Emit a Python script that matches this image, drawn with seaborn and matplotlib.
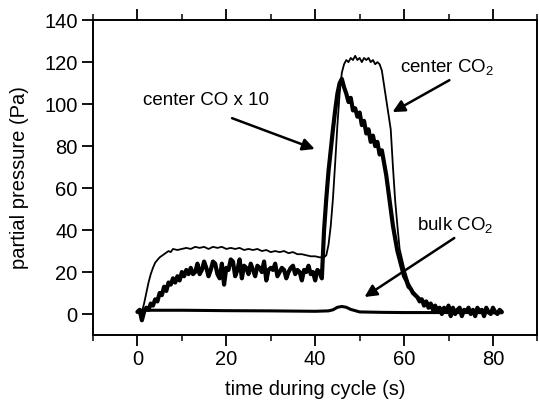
import numpy as np
import pandas as pd
import matplotlib
matplotlib.use("Agg")
import matplotlib.pyplot as plt
import seaborn as sns

# center CO2 (thin line)
t_co2 = [0.5, 1, 1.5, 2, 2.5, 3, 3.5, 4, 5, 6, 7, 7.5, 8, 9, 10, 11, 12, 13, 14, 15,
         16, 17, 18, 19, 20, 21, 22, 23, 24, 25, 26, 27, 28, 29, 30, 31, 32, 33, 34,
         35, 36, 37, 38, 39, 40, 41, 42, 42.5, 43, 43.5, 44, 44.5, 45, 45.5, 46, 46.5,
         47, 47.5, 48, 48.5, 49, 49.5, 50, 50.5, 51, 51.5, 52, 52.5, 53, 53.5, 54, 54.5,
         55, 55.5, 56, 56.5, 57, 57.5, 58, 58.5, 59, 60, 61, 62, 63, 64, 65, 66, 67, 68,
         70, 72, 75, 78, 82]
co2_center = [0, 1, 5, 10, 15, 19, 22, 24.5, 27, 28.5, 30, 29.5, 31, 30.5, 31, 31.5, 31, 32,
              31.5, 32, 31, 32, 31.5, 32, 31, 31.5, 31, 31.5, 30.5, 31, 30.5, 31, 30, 30.5,
              29.5, 30, 29.5, 30, 29, 29.5, 28.5, 28.5, 28, 27.5, 27.5, 27, 27, 28, 33, 42,
              55, 72, 90, 105, 115, 119, 121, 120, 122, 121, 123, 121, 122, 120, 122, 121,
              122, 120, 121, 119, 120, 119, 116, 109, 102, 95, 88, 70, 54, 42, 31, 22, 15,
              11, 8.5, 7, 5.5, 4.5, 3.5, 3, 2, 1.5, 1.5, 1, 1]

# center CO x 10 (thick noisy line), every 0.5 s
t_co = list(np.arange(0, 82.5, 0.5))
co_center_x10 = [1, 2, -3, 1, 3, 2, 5, 4, 7, 6, 10, 9, 13, 11, 15, 14, 17, 15, 18, 16,
                 20, 18, 21, 19, 22, 19, 20, 24, 19, 21, 25, 22, 18, 21, 25, 24, 19, 17,
                 24, 14, 22, 21, 26, 25, 18, 21, 26, 17, 23, 22, 19, 24, 21, 18, 23, 22,
                 20, 25, 16, 21, 22, 21, 24, 18, 20, 22, 21, 17, 20, 22, 23, 19, 21, 20,
                 16, 21, 20, 23, 19, 20, 16, 21, 20, 17, 40, 55, 68, 78, 88, 97, 105, 110,
                 112, 108, 105, 101, 103, 97, 98, 94, 96, 90, 92, 86, 88, 82, 85, 80, 82,
                 76, 78, 72, 66, 58, 50, 42, 36, 30, 26, 22, 18, 16, 13, 12, 10, 9, 8, 6,
                 7, 4, 6, 3, 5, 2, 4, 1, 3, 0, 3, 1, 4, -1, 3, 0, 2, 3, -1, 2, 1, 3, 0, 2,
                 -1, 3, 1, 2, -1, 3, 1, 0, 3, 1, 0, 2, 1]

# bulk CO2
t_bulk = [0.5, 1, 2, 5, 10, 20, 30, 40, 43, 44, 45, 46, 47, 48, 50, 55, 60, 65, 70, 75, 80, 82]
co2_bulk = [0.5, 1.8, 1.8, 1.8, 1.8, 1.6, 1.5, 1.3, 1.5, 2, 3.2, 3.6, 3.2, 2.2, 1.0, 0.8,
            0.7, 0.7, 0.7, 0.7, 0.6, 0.6]

x_ticks = [0, 20, 40, 60, 80]
y_ticks = [0, 20, 40, 60, 80, 100, 120, 140]

sns.set_style("ticks")
plt.rcParams['font.family'] = ['Liberation Sans', 'DejaVu Sans']
plt.rcParams['mathtext.fontset'] = 'custom'
plt.rcParams['mathtext.rm'] = 'Liberation Sans'
plt.rcParams['mathtext.default'] = 'regular'
plt.rcParams['text.color'] = 'black'
plt.rcParams['axes.labelcolor'] = 'black'

fig = plt.figure(figsize=(5.39, 4.03), dpi=100)
ax = fig.add_axes([0.1725, 0.1687, 0.8245, 0.7813])

sns.lineplot(x=t_bulk, y=co2_bulk, ax=ax, color='black', linewidth=2.2,
             estimator=None, sort=False)
sns.lineplot(x=t_co2, y=co2_center, ax=ax, color='black', linewidth=1.3,
             estimator=None, sort=False)
sns.lineplot(x=t_co, y=co_center_x10, ax=ax, color='black', linewidth=3.0,
             estimator=None, sort=False)

ax.set_xlim(-10, 90)
ax.set_ylim(-10, 140)
ax.set_xticks(x_ticks)
ax.set_xticks([-10, 10, 30, 50, 70, 90], minor=True)
ax.set_yticks(y_ticks)
ax.tick_params(axis='both', which='major', direction='out', length=8, width=1.3,
               labelsize=14.5, color='black', labelcolor='black', pad=3)
ax.tick_params(axis='x', which='minor', direction='out', length=4.5, width=1.3)
ax.tick_params(axis='x', which='both', top=True)
ax.tick_params(axis='y', which='both', right=False)
for s in ax.spines.values():
    s.set_visible(True)
    s.set_linewidth(1.4)
    s.set_color('black')

ax.set_xlabel("time during cycle (s)", fontsize=14.5, labelpad=8, color='black')
ax.set_ylabel("partial pressure (Pa)", fontsize=14.5, labelpad=11, color='black')

arrow = dict(arrowstyle='-|>', color='black', lw=1.8, mutation_scale=18,
             shrinkA=0, shrinkB=0)
ax.text(1.2, 101.9, "center CO x 10", fontsize=13.5, va='center', ha='left', color='black')
ax.annotate("", xy=(39.9, 78.6), xytext=(21.3, 93.3), arrowprops=arrow)
ax.text(59.0, 117.6, "center CO$_2$", fontsize=13.5, va='center', ha='left', color='black')
ax.annotate("", xy=(57.4, 96.2), xytext=(70.2, 111.4), arrowprops=arrow)
ax.text(63.0, 42.4, "bulk CO$_2$", fontsize=13.5, va='center', ha='left', color='black')
ax.annotate("", xy=(51.1, 8.1), xytext=(71.3, 36.2), arrowprops=arrow)

fig.savefig("out.png", dpi=100)
